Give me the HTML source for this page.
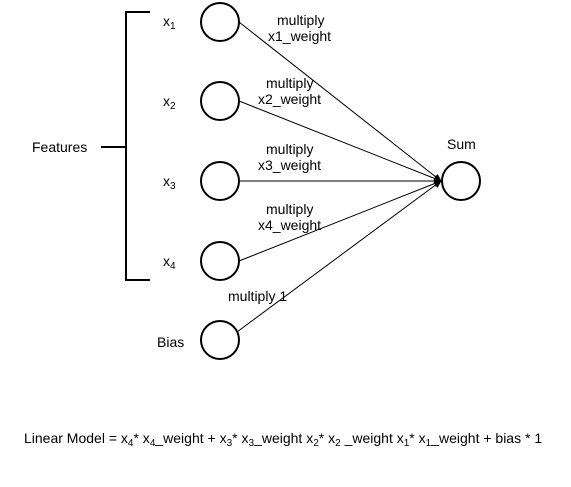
<!DOCTYPE html>
<html><head><meta charset="utf-8"><style>
body{margin:0;background:#fff}
svg text{font-family:"Liberation Sans",Arial,sans-serif;font-size:14px;fill:#000}
</style></head><body>
<svg width="571" height="482" viewBox="0 0 571 482">
<defs><marker id="ar" markerWidth="8" markerHeight="8" refX="7" refY="4" orient="auto" markerUnits="userSpaceOnUse"><path d="M0,0.5 L8,4 L0,7.5 Z" fill="#000"/></marker></defs>
<g stroke="#000" stroke-width="2" fill="none">
<path d="M150,12 H126 V280 H150"/><path d="M101,147 H126"/>
</g>
<text x="32" y="152">Features</text>
<g stroke="#000" stroke-width="1" fill="none">
<line x1="239" y1="22" x2="441" y2="181" marker-end="url(#ar)"/>
<line x1="239" y1="101" x2="441" y2="181" marker-end="url(#ar)"/>
<line x1="239" y1="181" x2="441" y2="181" marker-end="url(#ar)"/>
<line x1="239" y1="261" x2="441" y2="181" marker-end="url(#ar)"/>
<line x1="237" y1="332" x2="441" y2="181" marker-end="url(#ar)"/>
</g>
<g stroke="#000" stroke-width="2" fill="#fff">
<circle cx="220" cy="22" r="19"/>
<circle cx="220" cy="101" r="19"/>
<circle cx="220" cy="181" r="19"/>
<circle cx="220" cy="261" r="19"/>
<circle cx="220" cy="340" r="19"/>
<circle cx="461" cy="181" r="19"/>
</g>
<text x="163" y="26">x<tspan font-size="10" dy="3">1</tspan></text>
<text x="163" y="106">x<tspan font-size="10" dy="3">2</tspan></text>
<text x="163" y="186">x<tspan font-size="10" dy="3">3</tspan></text>
<text x="163" y="266">x<tspan font-size="10" dy="3">4</tspan></text>
<text x="157" y="347">Bias</text>
<text x="447" y="149">Sum</text>
<text x="277" y="25">multiply</text>
<text x="268" y="41">x1_weight</text>
<text x="266" y="88">multiply</text>
<text x="258" y="104">x2_weight</text>
<text x="266" y="154">multiply</text>
<text x="258" y="170">x3_weight</text>
<text x="266" y="214">multiply</text>
<text x="258" y="230">x4_weight</text>
<text x="228" y="301">multiply 1</text>
<text x="24" y="443">Linear Model = x<tspan font-size="10" dy="3">4</tspan><tspan dy="-3">* x</tspan><tspan font-size="10" dy="3">4</tspan><tspan dy="-3">_weight + x</tspan><tspan font-size="10" dy="3">3</tspan><tspan dy="-3">* x</tspan><tspan font-size="10" dy="3">3</tspan><tspan dy="-3">_weight x</tspan><tspan font-size="10" dy="3">2</tspan><tspan dy="-3">* x</tspan><tspan font-size="10" dy="3">2</tspan><tspan dy="-3"> _weight x</tspan><tspan font-size="10" dy="3">1</tspan><tspan dy="-3">* x</tspan><tspan font-size="10" dy="3">1</tspan><tspan dy="-3">_weight + bias * 1</tspan></text>
</svg>
</body></html>
